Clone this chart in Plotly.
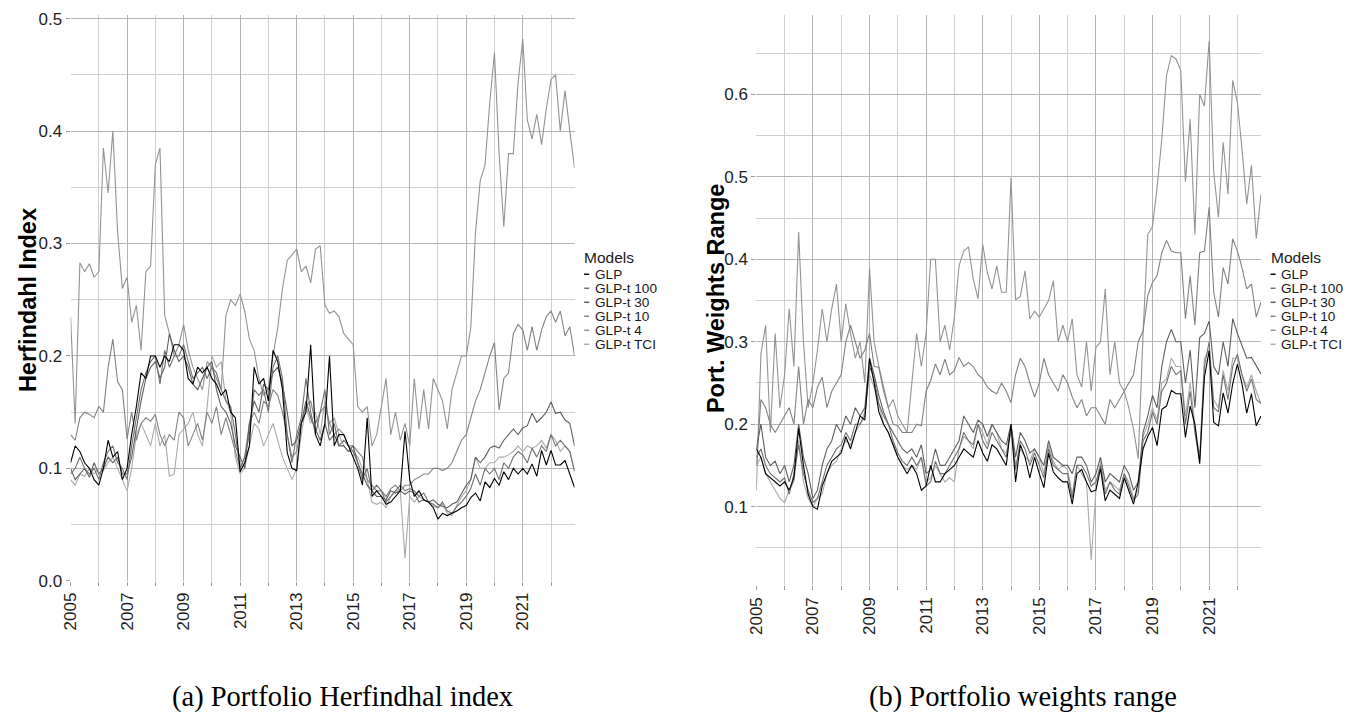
import pandas as pd
import plotly.graph_objects as go

W, H = 1363, 721

# bi-monthly observation dates (Jan, Mar, May, Jul, Sep, Nov) 2005-2022
dates = pd.date_range("2005-01-01", periods=108, freq="2MS")

models = ["GLP", "GLP-t 100", "GLP-t 30", "GLP-t 10", "GLP-t 4", "GLP-t TCI"]
line_colors = ["#000000", "#707070", "#5e5e5e", "#828282", "#939393", "#aaaaaa"]

x_tick_labels = ["2005", "2007", "2009", "2011", "2013", "2015", "2017", "2019", "2021"]
herf_ticks = [0.0, 0.1, 0.2, 0.3, 0.4, 0.5]
range_ticks = [0.1, 0.2, 0.3, 0.4, 0.5, 0.6]

# ---------------- (a) Herfindahl index ----------------
herf_glp = [
    0.105, 0.12, 0.115, 0.105, 0.10, 0.09,
    0.085, 0.10, 0.125, 0.11, 0.115, 0.09,
    0.10, 0.13, 0.155, 0.185, 0.18, 0.20,
    0.20, 0.19, 0.20, 0.195, 0.21, 0.21,
    0.205, 0.18, 0.175, 0.19, 0.185, 0.19,
    0.18, 0.175, 0.165, 0.17, 0.15, 0.145,
    0.097, 0.105, 0.12, 0.19, 0.175, 0.18,
    0.16, 0.205, 0.195, 0.17, 0.114, 0.10,
    0.098, 0.14, 0.15, 0.21, 0.13, 0.12,
    0.14, 0.20, 0.12, 0.13, 0.13, 0.12,
    0.11, 0.10, 0.085, 0.145, 0.075, 0.08,
    0.075, 0.068, 0.07, 0.075, 0.08, 0.133,
    0.09, 0.075, 0.08, 0.072, 0.07, 0.065,
    0.055, 0.06, 0.058, 0.06, 0.062, 0.065,
    0.067, 0.074, 0.078, 0.071, 0.088, 0.083,
    0.091, 0.085, 0.097, 0.09, 0.10, 0.095,
    0.10, 0.095, 0.104, 0.093, 0.116, 0.103,
    0.116, 0.103, 0.103, 0.107, 0.095, 0.083,
]
herf_t100 = [
    0.095, 0.10, 0.11, 0.10, 0.095, 0.10,
    0.09, 0.105, 0.115, 0.12, 0.105, 0.10,
    0.09, 0.12, 0.145, 0.17, 0.185, 0.195,
    0.20, 0.175, 0.205, 0.19, 0.20, 0.20,
    0.21, 0.195, 0.18, 0.185, 0.19, 0.18,
    0.19, 0.185, 0.17, 0.16, 0.155, 0.13,
    0.10, 0.11, 0.13, 0.17, 0.165, 0.17,
    0.15, 0.19, 0.20, 0.18, 0.13, 0.105,
    0.13, 0.145, 0.18, 0.15, 0.13, 0.15,
    0.17, 0.13, 0.14, 0.12, 0.125, 0.12,
    0.115, 0.105, 0.09, 0.10, 0.08, 0.085,
    0.08, 0.07, 0.075, 0.08, 0.085, 0.08,
    0.082, 0.08, 0.075, 0.078, 0.07, 0.068,
    0.065, 0.07, 0.062, 0.06, 0.066, 0.07,
    0.075, 0.082, 0.095, 0.085, 0.10, 0.095,
    0.10, 0.09, 0.105, 0.10, 0.11, 0.115,
    0.112, 0.105, 0.118, 0.11, 0.12, 0.115,
    0.13, 0.12, 0.125, 0.12, 0.115, 0.097,
]
herf_t30 = [
    0.10, 0.09, 0.095, 0.10, 0.092, 0.105,
    0.095, 0.10, 0.11, 0.105, 0.11, 0.095,
    0.095, 0.11, 0.135, 0.16, 0.18, 0.19,
    0.195, 0.18, 0.19, 0.22, 0.205, 0.195,
    0.20, 0.19, 0.175, 0.17, 0.18, 0.19,
    0.195, 0.17, 0.155, 0.15, 0.14, 0.12,
    0.11, 0.10, 0.14, 0.16, 0.15, 0.175,
    0.17, 0.185, 0.19, 0.175, 0.15, 0.12,
    0.125, 0.14, 0.16, 0.145, 0.135, 0.125,
    0.14, 0.125, 0.13, 0.12, 0.12, 0.115,
    0.12, 0.105, 0.095, 0.085, 0.08, 0.075,
    0.075, 0.072, 0.08, 0.078, 0.08, 0.077,
    0.08, 0.078, 0.07, 0.072, 0.07, 0.072,
    0.068, 0.066, 0.065, 0.068, 0.07, 0.078,
    0.085, 0.09, 0.11, 0.105, 0.11, 0.118,
    0.12, 0.118, 0.125, 0.13, 0.135, 0.13,
    0.136, 0.138, 0.149, 0.141, 0.145, 0.15,
    0.159, 0.149, 0.15, 0.143, 0.14, 0.12,
]
herf_t10 = [
    0.13, 0.125, 0.145, 0.15, 0.148, 0.145,
    0.155, 0.15, 0.19, 0.215, 0.177, 0.17,
    0.126, 0.15, 0.125, 0.14, 0.145, 0.142,
    0.148, 0.13, 0.12, 0.13, 0.125, 0.15,
    0.145, 0.12, 0.13, 0.14, 0.125, 0.15,
    0.14, 0.155, 0.13, 0.145, 0.13, 0.115,
    0.10, 0.11, 0.14, 0.15, 0.14, 0.16,
    0.155, 0.17, 0.165, 0.15, 0.13, 0.11,
    0.115, 0.14, 0.155, 0.16, 0.14, 0.15,
    0.155, 0.14, 0.13, 0.135, 0.13, 0.12,
    0.12, 0.115, 0.11, 0.09, 0.085, 0.08,
    0.08, 0.075, 0.082, 0.085, 0.08, 0.085,
    0.085, 0.09, 0.092, 0.095, 0.095, 0.10,
    0.10, 0.098, 0.10, 0.105, 0.115, 0.125,
    0.13, 0.145, 0.16, 0.17, 0.185, 0.20,
    0.212, 0.152, 0.18, 0.185, 0.22, 0.228,
    0.223, 0.205, 0.226, 0.205, 0.223, 0.235,
    0.24, 0.23, 0.24, 0.218, 0.226, 0.20,
]
herf_t4 = [
    0.235, 0.14, 0.283, 0.275, 0.282, 0.27,
    0.275, 0.385, 0.345, 0.40, 0.31, 0.26,
    0.27, 0.23, 0.245, 0.205, 0.275, 0.28,
    0.37, 0.385, 0.236, 0.22, 0.20, 0.21,
    0.228, 0.205, 0.19, 0.18, 0.17, 0.195,
    0.19, 0.18, 0.17, 0.236, 0.25, 0.245,
    0.255, 0.24, 0.215, 0.205, 0.18, 0.165,
    0.17, 0.20, 0.225, 0.26, 0.285, 0.29,
    0.295, 0.275, 0.28, 0.265, 0.295, 0.298,
    0.245, 0.238, 0.24, 0.235, 0.22, 0.215,
    0.21, 0.155, 0.15, 0.155, 0.12, 0.13,
    0.155, 0.18, 0.13, 0.15, 0.125, 0.14,
    0.12, 0.18, 0.135, 0.17, 0.135, 0.18,
    0.17, 0.16, 0.135, 0.17, 0.185, 0.20,
    0.20, 0.225, 0.31, 0.356, 0.37, 0.425,
    0.47, 0.38, 0.315, 0.38, 0.38, 0.443,
    0.482, 0.41, 0.393, 0.415, 0.388, 0.42,
    0.446, 0.45, 0.40, 0.436, 0.40, 0.367,
]
herf_tci = [
    0.09, 0.085, 0.095, 0.093, 0.10, 0.095,
    0.10, 0.098, 0.105, 0.11, 0.10, 0.09,
    0.08, 0.10, 0.13, 0.14, 0.13, 0.12,
    0.14, 0.12, 0.13, 0.093, 0.095, 0.13,
    0.135, 0.14, 0.15, 0.13, 0.12, 0.155,
    0.20, 0.19, 0.195, 0.16, 0.15, 0.11,
    0.095, 0.10, 0.12, 0.14, 0.135, 0.12,
    0.13, 0.14, 0.125, 0.11, 0.10, 0.09,
    0.10, 0.13, 0.155, 0.14, 0.15, 0.13,
    0.16, 0.14, 0.145, 0.13, 0.12, 0.115,
    0.115, 0.11, 0.10, 0.09, 0.07, 0.068,
    0.07, 0.065, 0.075, 0.08, 0.08, 0.02,
    0.075, 0.07, 0.075, 0.072, 0.07, 0.066,
    0.065, 0.068, 0.06, 0.058, 0.067, 0.075,
    0.08, 0.09, 0.11, 0.10, 0.10, 0.105,
    0.105, 0.11, 0.11, 0.112, 0.115, 0.12,
    0.115, 0.12, 0.118, 0.12, 0.125, 0.118,
    0.13, 0.125, 0.115, 0.12, 0.115, 0.098,
]

# ---------------- (b) Portfolio weights range ----------------
rng_glp = [
    0.17, 0.16, 0.14, 0.135, 0.13, 0.125,
    0.13, 0.12, 0.135, 0.195, 0.15, 0.115,
    0.10, 0.097, 0.125, 0.14, 0.155, 0.16,
    0.165, 0.185, 0.17, 0.19, 0.21, 0.205,
    0.28, 0.25, 0.215, 0.20, 0.19, 0.175,
    0.16, 0.15, 0.14, 0.15, 0.14, 0.12,
    0.125, 0.15, 0.13, 0.13, 0.14, 0.145,
    0.15, 0.16, 0.17, 0.165, 0.16, 0.18,
    0.165, 0.155, 0.175, 0.17, 0.16, 0.15,
    0.20, 0.13, 0.175, 0.16, 0.135, 0.16,
    0.14, 0.123, 0.165, 0.142, 0.135, 0.13,
    0.13, 0.103, 0.14, 0.145, 0.13, 0.118,
    0.12, 0.146, 0.107, 0.12, 0.115, 0.11,
    0.135, 0.12, 0.103, 0.13, 0.17, 0.185,
    0.196, 0.174, 0.218, 0.222, 0.241, 0.237,
    0.237, 0.184, 0.222, 0.20, 0.152, 0.257,
    0.289, 0.202, 0.198, 0.238, 0.2135, 0.249,
    0.273, 0.249, 0.2135, 0.237, 0.198, 0.21,
]
rng_t100 = [
    0.16, 0.17, 0.15, 0.14, 0.135, 0.13,
    0.135, 0.115, 0.14, 0.175, 0.14, 0.12,
    0.105, 0.11, 0.13, 0.15, 0.16, 0.17,
    0.175, 0.19, 0.18, 0.20, 0.20, 0.21,
    0.27, 0.255, 0.225, 0.21, 0.20, 0.18,
    0.165, 0.155, 0.15, 0.16, 0.15, 0.16,
    0.125, 0.13, 0.155, 0.14, 0.14, 0.15,
    0.16, 0.17, 0.19, 0.18, 0.175, 0.20,
    0.18, 0.17, 0.19, 0.18, 0.17, 0.16,
    0.20, 0.145, 0.18, 0.17, 0.15, 0.165,
    0.15, 0.135, 0.17, 0.15, 0.145, 0.14,
    0.14, 0.11, 0.15, 0.15, 0.14, 0.125,
    0.13, 0.15, 0.115, 0.13, 0.12, 0.115,
    0.14, 0.125, 0.108, 0.115, 0.18, 0.19,
    0.215, 0.20, 0.24, 0.25, 0.27, 0.26,
    0.265, 0.20, 0.24, 0.19, 0.155, 0.27,
    0.30, 0.22, 0.215, 0.26, 0.23, 0.27,
    0.285, 0.26, 0.24, 0.255, 0.23, 0.225,
]
rng_t30 = [
    0.17, 0.20, 0.16, 0.15, 0.155, 0.14,
    0.15, 0.13, 0.15, 0.20, 0.16, 0.14,
    0.11, 0.12, 0.15, 0.17, 0.18, 0.20,
    0.19, 0.21, 0.20, 0.22, 0.21, 0.22,
    0.28, 0.26, 0.235, 0.215, 0.20, 0.19,
    0.18, 0.17, 0.165, 0.17, 0.16, 0.175,
    0.14, 0.145, 0.17, 0.15, 0.15, 0.16,
    0.17, 0.18, 0.21, 0.20, 0.19, 0.205,
    0.20, 0.185, 0.20, 0.19, 0.18, 0.175,
    0.20, 0.16, 0.19, 0.18, 0.165, 0.17,
    0.16, 0.15, 0.18, 0.16, 0.155, 0.15,
    0.15, 0.14, 0.16, 0.16, 0.15, 0.13,
    0.14, 0.16, 0.13, 0.14, 0.135, 0.13,
    0.15, 0.14, 0.12, 0.13, 0.19, 0.21,
    0.235, 0.22, 0.27, 0.30, 0.315, 0.30,
    0.30, 0.25, 0.29, 0.22, 0.305, 0.31,
    0.325, 0.27, 0.26, 0.30, 0.27, 0.328,
    0.31, 0.295, 0.28, 0.281, 0.27, 0.261,
]
rng_t10 = [
    0.15, 0.23, 0.22, 0.20, 0.19, 0.20,
    0.21, 0.22, 0.20, 0.27, 0.20, 0.23,
    0.22, 0.245, 0.257, 0.22, 0.24, 0.25,
    0.26, 0.30, 0.32, 0.30, 0.28, 0.29,
    0.31, 0.27, 0.269, 0.24, 0.22, 0.20,
    0.198, 0.19, 0.19, 0.19, 0.20, 0.198,
    0.24, 0.253, 0.273, 0.26, 0.279, 0.26,
    0.265, 0.281, 0.27, 0.275, 0.27, 0.26,
    0.255, 0.245, 0.24, 0.237, 0.25, 0.24,
    0.226, 0.26, 0.28, 0.27, 0.25, 0.233,
    0.25, 0.28, 0.26, 0.25, 0.24, 0.26,
    0.25, 0.233, 0.22, 0.23, 0.21, 0.22,
    0.22, 0.21, 0.20, 0.23, 0.22, 0.23,
    0.24, 0.25, 0.26, 0.30, 0.313, 0.356,
    0.372, 0.38, 0.408, 0.423, 0.41, 0.408,
    0.408, 0.328, 0.38, 0.32, 0.408, 0.41,
    0.463, 0.36, 0.33, 0.39, 0.37, 0.425,
    0.41, 0.39, 0.364, 0.37, 0.33, 0.348,
]
rng_t4 = [
    0.12, 0.285, 0.32, 0.19, 0.31, 0.22,
    0.26, 0.34, 0.27, 0.433, 0.30, 0.22,
    0.25, 0.29, 0.34, 0.30, 0.34, 0.37,
    0.30, 0.346, 0.31, 0.28, 0.30, 0.25,
    0.389, 0.30, 0.27, 0.245, 0.22, 0.23,
    0.21, 0.20, 0.19, 0.25, 0.31, 0.27,
    0.31, 0.40, 0.40, 0.30, 0.32, 0.29,
    0.33, 0.392, 0.41, 0.415, 0.376, 0.352,
    0.418, 0.384, 0.364, 0.392, 0.36, 0.36,
    0.499, 0.351, 0.355, 0.386, 0.328, 0.337,
    0.33, 0.34, 0.35, 0.374, 0.30, 0.32,
    0.30, 0.328, 0.26, 0.245, 0.30, 0.24,
    0.293, 0.30, 0.364, 0.26, 0.30, 0.25,
    0.24, 0.22, 0.194, 0.158, 0.31, 0.43,
    0.44, 0.487, 0.546, 0.623, 0.647, 0.643,
    0.629, 0.494, 0.57, 0.43, 0.60, 0.586,
    0.665, 0.506, 0.451, 0.542, 0.479, 0.617,
    0.59, 0.534, 0.467, 0.514, 0.425, 0.479,
]
rng_tci = [
    0.15, 0.16, 0.14, 0.13, 0.12, 0.11,
    0.105, 0.12, 0.13, 0.18, 0.13, 0.11,
    0.10, 0.11, 0.115, 0.14, 0.15, 0.155,
    0.17, 0.18, 0.175, 0.19, 0.20, 0.215,
    0.26, 0.245, 0.225, 0.20, 0.19, 0.175,
    0.16, 0.15, 0.145, 0.15, 0.145, 0.16,
    0.13, 0.135, 0.15, 0.14, 0.13, 0.135,
    0.13, 0.17, 0.185, 0.18, 0.17, 0.20,
    0.19, 0.175, 0.20, 0.19, 0.17, 0.165,
    0.19, 0.15, 0.17, 0.16, 0.155, 0.17,
    0.16, 0.14, 0.175, 0.155, 0.145, 0.15,
    0.145, 0.115, 0.15, 0.14, 0.13, 0.035,
    0.12, 0.155, 0.12, 0.13, 0.125, 0.12,
    0.14, 0.13, 0.11, 0.12, 0.185, 0.20,
    0.22, 0.205, 0.25, 0.255, 0.28, 0.27,
    0.27, 0.21, 0.25, 0.20, 0.16, 0.28,
    0.29, 0.23, 0.22, 0.265, 0.24, 0.28,
    0.28, 0.26, 0.245, 0.26, 0.24, 0.225,
]

herf_series = [herf_glp, herf_t100, herf_t30, herf_t10, herf_t4, herf_tci]
rng_series = [rng_glp, rng_t100, rng_t30, rng_t10, rng_t4, rng_tci]
for s in herf_series + rng_series:
    assert len(s) == len(dates), len(s)


def px(x):
    return x / W


def py(y):
    return 1 - y / H


fig = go.Figure()

draw_order = [5, 4, 3, 2, 1, 0]
for i in draw_order:
    fig.add_trace(go.Scatter(x=dates, y=herf_series[i], mode="lines", name=models[i],
                             line=dict(color=line_colors[i], width=1.1),
                             xaxis="x", yaxis="y", showlegend=False))
for i in draw_order:
    fig.add_trace(go.Scatter(x=dates, y=rng_series[i], mode="lines", name=models[i],
                             line=dict(color=line_colors[i], width=1.1),
                             xaxis="x2", yaxis="y2", showlegend=False))

SANS = "Liberation Sans, Arial, sans-serif"
tick_font = dict(family=SANS, size=17, color="#1e1e1e")
MAJOR = "#b4b4b4"
MINOR = "#cfcfcf"


def xaxis_cfg(domain, anchor):
    return dict(
        domain=domain, anchor=anchor, type="date",
        range=[dates[0], dates[-1]],
        tickmode="array",
        tickvals=[pd.Timestamp(f"{t}-01-01") for t in x_tick_labels],
        ticktext=x_tick_labels,
        tickangle=-90, ticks="outside", ticklen=4, tickcolor="#9a9a9a",
        showgrid=True, gridcolor=MAJOR, gridwidth=1.2,
        minor=dict(dtick="M12", tick0="2005-01-01", showgrid=True, gridcolor=MINOR, gridwidth=1,
                   ticks="outside", ticklen=4, tickcolor="#9a9a9a"),
        showline=False, zeroline=False, tickfont=tick_font,
    )


def yaxis_cfg(domain, anchor, rng, ticks):
    return dict(
        domain=domain, anchor=anchor, range=rng,
        tickmode="array", tickvals=ticks, ticktext=[f"{t:.1f}" for t in ticks],
        ticks="outside", ticklen=4, tickcolor="#9a9a9a",
        showgrid=True, gridcolor=MAJOR, gridwidth=1.2,
        minor=dict(dtick=0.05, tick0=0, showgrid=True, gridcolor=MINOR, gridwidth=1),
        showline=False, zeroline=False, tickfont=tick_font,
    )


fig.update_layout(
    width=W, height=H,
    margin=dict(l=0, r=0, t=0, b=0),
    paper_bgcolor="white", plot_bgcolor="white",
    showlegend=False,
    xaxis=xaxis_cfg([px(62), px(569.3)], "y"),
    yaxis=yaxis_cfg([py(588), py(10)], "x", [0, 0.5035], herf_ticks),
    xaxis2=xaxis_cfg([px(752.3), px(1260.3)], "y2"),
    yaxis2=yaxis_cfg([py(592.7), py(10)], "x2", [0.0045, 0.6966], range_ticks),
)

annotations = []
shapes = []

title_font = dict(family=SANS, size=23.5, color="#000000")
annotations.append(dict(x=px(18.5), y=py(301), xref="paper", yref="paper", text="<b>Herfindahl Index</b>",
                        textangle=-90, showarrow=False, xanchor="center", yanchor="middle", font=title_font))
annotations.append(dict(x=px(711), y=py(300), xref="paper", yref="paper", text="<b>Port. Weights Range</b>",
                        textangle=-90, showarrow=False, xanchor="center", yanchor="middle", font=title_font))

legend_rows = [275.0, 289.3, 303.6, 317.9, 332.2, 346.5]
for x0 in (579, 1270):
    annotations.append(dict(x=px(x0 - 2), y=py(258), xref="paper", yref="paper", text="Models",
                            showarrow=False, xanchor="left", yanchor="middle",
                            font=dict(family=SANS, size=15.5, color="#1a1a1a")))
    for i, name in enumerate(models):
        yc = legend_rows[i]
        shapes.append(dict(type="line", xref="paper", yref="paper",
                           x0=px(x0), x1=px(x0 + 5), y0=py(yc), y1=py(yc),
                           line=dict(color=line_colors[i], width=1.5)))
        annotations.append(dict(x=px(x0 + 8.5), y=py(yc + 0.5), xref="paper", yref="paper", text=name,
                                showarrow=False, xanchor="left", yanchor="middle",
                                font=dict(family=SANS, size=13.6, color="#1a1a1a")))

cap_font = dict(family="Liberation Serif, Times New Roman, serif", size=28.5, color="#000000")
annotations.append(dict(x=px(336), y=py(707), xref="paper", yref="paper", text="(a) Portfolio Herfindhal index",
                        showarrow=False, xanchor="center", yanchor="middle", font=cap_font))
annotations.append(dict(x=px(1021), y=py(707), xref="paper", yref="paper", text="(b) Portfolio weights range",
                        showarrow=False, xanchor="center", yanchor="middle", font=cap_font))

fig.update_layout(annotations=annotations, shapes=shapes)

fig.write_html("out.html")
